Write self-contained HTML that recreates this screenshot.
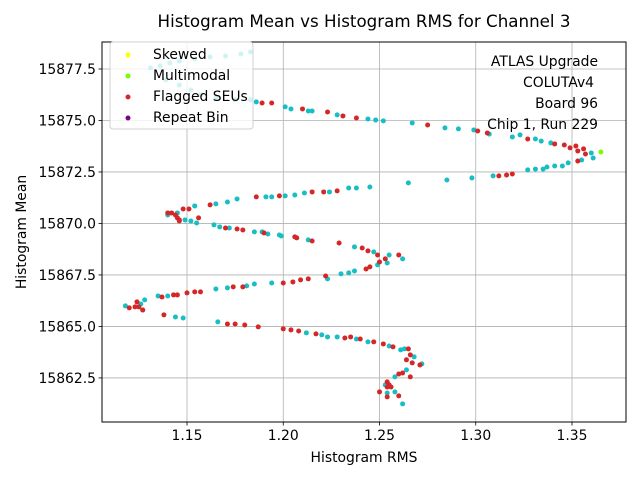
<!DOCTYPE html>
<html><head><meta charset="utf-8"><style>
body{margin:0;background:#fff;}
svg{display:block;font-family:"DejaVu Sans","Liberation Sans",sans-serif;}
</style></head><body>
<svg id="chart" width="640" height="480" viewBox="0 0 640 480">
<rect width="640" height="480" fill="#fff"/>
<text x="364" y="27" text-anchor="middle" font-size="16.7">Histogram Mean vs Histogram RMS for Channel 3</text>
<g id="grid"></g>
<g id="xticks"></g>
<g id="yticks"></g>
<g id="marks"></g>
<rect x="102" y="42" width="524" height="380" fill="none" stroke="#000" stroke-width="1"/>
<text x="364" y="462" text-anchor="middle" font-size="13.9">Histogram RMS</text>
<text transform="translate(26,232) rotate(-90)" text-anchor="middle" font-size="13.9">Histogram Mean</text>
<g font-size="13.9" text-anchor="end">
<text x="598" y="66">ATLAS Upgrade</text>
<text x="594" y="87">COLUTAv4</text>
<text x="598" y="108">Board 96</text>
<text x="598" y="129">Chip 1, Run 229</text>
</g>
<g>
<rect x="110" y="42" width="143" height="87" rx="3" fill="#fff" fill-opacity="0.8" stroke="#d0d0d0"/>
<g><circle cx="128" cy="55" r="2.5" fill="#ffff00"/><text x="153" y="59" font-size="13.9">Skewed</text></g>
<g><circle cx="128" cy="76" r="2.5" fill="#7cfc00"/><text x="153" y="80" font-size="13.9">Multimodal</text></g>
<g><circle cx="128" cy="97" r="2.5" fill="#d62728"/><text x="153" y="101" font-size="13.9">Flagged SEUs</text></g>
<g><circle cx="128" cy="118" r="2.5" fill="#800080"/><text x="153" y="122" font-size="13.9">Repeat Bin</text></g>
</g>
</svg>
<script>
const xTicks=[1.15,1.20,1.25,1.30,1.35];
const xTickLabels=["1.15","1.20","1.25","1.30","1.35"];
const yTicks=[15862.5,15865.0,15867.5,15870.0,15872.5,15875.0,15877.5];
const yTickLabels=["15862.5","15865.0","15867.5","15870.0","15872.5","15875.0","15877.5"];
const cyanX=[1.131,1.136,1.141,1.146,1.154,1.162,1.170,1.178,1.183,1.139,1.146,1.152,1.157,1.165,1.175,1.183,1.186,1.201,1.204,1.213,1.215,1.228,1.244,1.248,1.252,1.267,1.284,1.291,1.299,1.307,1.319,1.323,1.331,1.334,1.339,1.360,1.361,1.355,1.348,1.345,1.341,1.337,1.335,1.331,1.327,1.309,1.298,1.285,1.265,1.245,1.238,1.234,1.224,1.211,1.206,1.201,1.194,1.191,1.176,1.171,1.165,1.154,1.155,1.152,1.149,1.140,1.145,1.164,1.167,1.172,1.185,1.189,1.192,1.199,1.198,1.213,1.237,1.247,1.254,1.255,1.262,1.249,1.237,1.234,1.230,1.223,1.194,1.185,1.181,1.171,1.165,1.140,1.135,1.128,1.126,1.118,1.127,1.144,1.148,1.166,1.212,1.220,1.223,1.228,1.238,1.244,1.255,1.261,1.263,1.268,1.272,1.264,1.258,1.253,1.254,1.258,1.262];
const cyanY=[15877.55,15877.65,15877.79,15877.89,15877.99,15878.08,15878.13,15878.23,15878.33,15876.97,15876.72,15876.48,15876.24,15876.09,15876.0,15876.0,15875.90,15875.66,15875.56,15875.46,15875.46,15875.27,15875.07,15875.02,15874.98,15874.88,15874.64,15874.59,15874.54,15874.34,15874.20,15874.30,15874.10,15874.0,15873.91,15873.42,15873.18,15873.08,15872.94,15872.79,15872.79,15872.74,15872.64,15872.64,15872.60,15872.31,15872.21,15872.11,15871.97,15871.77,15871.72,15871.72,15871.53,15871.48,15871.38,15871.34,15871.29,15871.29,15871.19,15871.04,15870.95,15870.85,15870.02,15870.12,15870.17,15870.41,15870.51,15869.93,15869.83,15869.78,15869.59,15869.59,15869.49,15869.39,15869.44,15869.20,15868.86,15868.62,15868.08,15868.47,15868.28,15867.99,15867.69,15867.60,15867.55,15867.31,15867.11,15867.06,15866.97,15866.87,15866.82,15866.48,15866.48,15866.29,15866.09,15866.0,15865.80,15865.46,15865.41,15865.22,15864.69,15864.59,15864.49,15864.49,15864.39,15864.25,15864.05,15863.86,15863.91,15863.52,15863.18,15862.89,15862.55,15862.16,15861.77,15861.82,15861.24];
const redX=[1.189,1.194,1.210,1.223,1.231,1.238,1.275,1.301,1.306,1.327,1.341,1.346,1.349,1.352,1.356,1.353,1.357,1.353,1.319,1.316,1.312,1.228,1.221,1.215,1.198,1.186,1.162,1.151,1.148,1.156,1.146,1.140,1.142,1.144,1.145,1.146,1.170,1.176,1.179,1.190,1.206,1.207,1.215,1.229,1.241,1.244,1.249,1.250,1.253,1.260,1.245,1.243,1.222,1.213,1.209,1.205,1.200,1.179,1.174,1.157,1.154,1.150,1.145,1.143,1.137,1.124,1.125,1.127,1.123,1.120,1.138,1.171,1.175,1.180,1.187,1.200,1.204,1.208,1.217,1.232,1.235,1.240,1.247,1.252,1.257,1.265,1.266,1.264,1.267,1.271,1.262,1.260,1.266,1.254,1.254,1.255,1.256,1.250,1.254,1.260];
const redY=[15875.85,15875.85,15875.56,15875.41,15875.22,15875.12,15874.78,15874.49,15874.39,15874.10,15873.86,15873.81,15873.67,15873.76,15873.62,15873.52,15873.37,15873.03,15872.40,15872.35,15872.31,15871.58,15871.53,15871.53,15871.34,15871.29,15870.90,15870.70,15870.70,15870.27,15870.17,15870.51,15870.51,15870.41,15870.27,15870.12,15869.78,15869.73,15869.68,15869.54,15869.35,15869.30,15869.15,15869.05,15868.81,15868.67,15868.47,15868.13,15868.28,15868.47,15867.89,15867.79,15867.45,15867.31,15867.26,15867.16,15867.11,15866.92,15866.92,15866.68,15866.68,15866.63,15866.53,15866.53,15866.43,15866.19,15865.95,15865.80,15865.95,15865.90,15865.56,15865.12,15865.12,15865.07,15864.98,15864.88,15864.83,15864.78,15864.64,15864.44,15864.49,15864.39,15864.25,15864.15,15864.01,15863.91,15863.62,15863.38,15863.23,15863.13,15862.74,15862.69,15862.55,15862.31,15862.06,15862.16,15862.06,15861.82,15861.58,15861.63];
const greenX=[1.365];
const greenY=[15873.47];

const L=102,R=626,T=42,B=422;
const XMIN=1.10584,XMAX=1.37805,YMIN=15860.36,YMAX=15878.81;
function xs(v){return L+(v-XMIN)/(XMAX-XMIN)*(R-L);}
function ys(v){return B-(v-YMIN)/(YMAX-YMIN)*(B-T);}
const NS="http://www.w3.org/2000/svg";
function mk(tag,attrs,parent){const e=document.createElementNS(NS,tag);for(const k in attrs)e.setAttribute(k,attrs[k]);parent.appendChild(e);return e;}
const grid=document.getElementById('grid'),gx=document.getElementById('xticks'),gy=document.getElementById('yticks'),gm=document.getElementById('marks');
xTicks.forEach((t,i)=>{const x=xs(t);
 const g=mk('line',{x1:x,x2:x,y1:T,y2:B,stroke:'#b0b0b0','stroke-width':0.8},grid);
 
 
 const tk=mk('line',{x1:x,x2:x,y1:B,y2:B+3.5,stroke:'#000','stroke-width':0.8},gx);
 
 
 const tx=mk('text',{x:x,y:B+18,'text-anchor':'middle','font-size':13.9},gx);tx.textContent=xTickLabels[i];
 
 
});
yTicks.forEach((t,i)=>{const y=ys(t);
 const g=mk('line',{x1:L,x2:R,y1:y,y2:y,stroke:'#b0b0b0','stroke-width':0.8},grid);
 
 
 const tk=mk('line',{x1:L-3.5,x2:L,y1:y,y2:y,stroke:'#000','stroke-width':0.8},gy);
 
 
 const tx=mk('text',{x:L-6,y:y+5,'text-anchor':'end','font-size':13.9},gy);tx.textContent=yTickLabels[i];
 
 
});
function series(X,Y,color,name){X.forEach((v,i)=>{
 const c=mk('circle',{cx:xs(v),cy:ys(Y[i]),r:2.5,fill:color},gm);
 
 
});}
series(cyanX,cyanY,'#17bfc4','point-normal');
series(redX,redY,'#d62728','point-flagged-seu');
series(greenX,greenY,'#7cfc00','point-multimodal');
</script>
</body></html>
